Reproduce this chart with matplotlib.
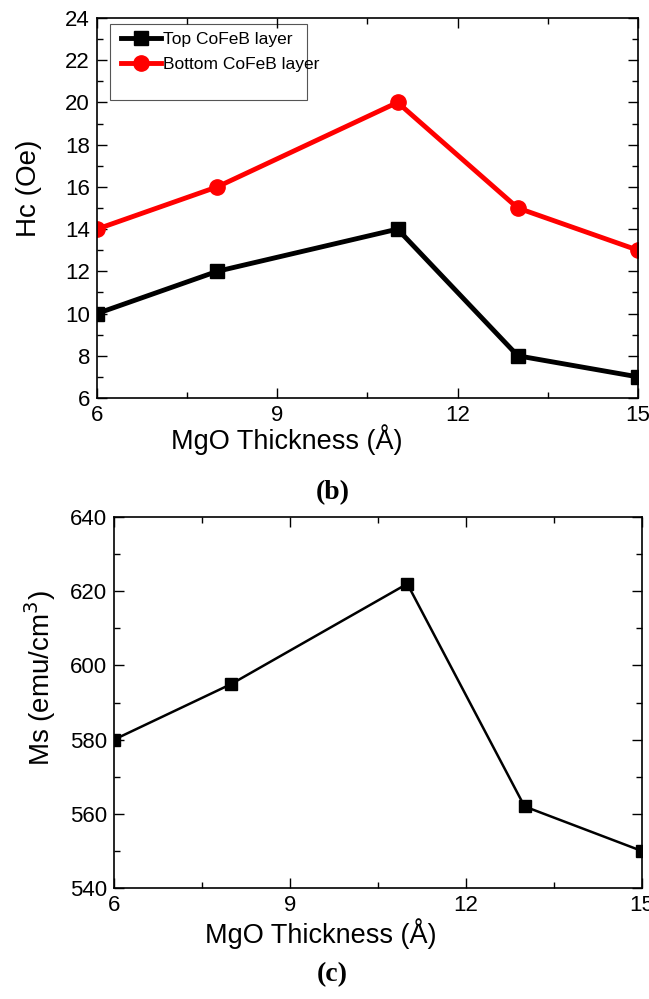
import matplotlib
matplotlib.use('Agg')
from matplotlib import pyplot as plt
from matplotlib.ticker import MultipleLocator
from matplotlib.patches import Rectangle

thickness = [6, 8, 11, 13, 15]
hc_top = [10, 12, 14, 8, 7]
hc_bottom = [14, 16, 20, 15, 13]
ms = [580, 595, 622, 562, 550]

plt.rcParams['font.family'] = ['Liberation Sans', 'DejaVu Sans']

fig = plt.figure(figsize=(6.49, 9.99), dpi=100)

def style(ax, ymaj, ymin):
    ax.set_xlim(6, 15)
    ax.xaxis.set_major_locator(MultipleLocator(3))
    ax.xaxis.set_minor_locator(MultipleLocator(1.5))
    ax.yaxis.set_major_locator(MultipleLocator(ymaj))
    ax.yaxis.set_minor_locator(MultipleLocator(ymin))
    ax.tick_params(which='both', direction='in', top=True, right=True, width=1)
    ax.tick_params(which='major', length=7, labelsize=16, pad=5)
    ax.tick_params(which='minor', length=4)
    for s in ax.spines.values():
        s.set_linewidth(1.2)

# panel (b)
ax1 = fig.add_axes([0.1495, 0.6016, 0.8335, 0.3804])
ax1.plot(thickness, hc_top, '-s', color='black', lw=3.5, ms=10, label='Top CoFeB layer')
ax1.plot(thickness, hc_bottom, '-o', color='red', lw=3.5, ms=11, label='Bottom CoFeB layer')
ax1.set_ylim(6, 24)
style(ax1, 2, 1)
ax1.set_xlabel('MgO Thickness (Å)', fontsize=19.5)
ax1.set_ylabel('Hc (Oe)', fontsize=20)
ax1.xaxis.set_label_coords(0.351, -0.07)
ax1.yaxis.set_label_coords(-0.102, 0.553)
ax1.add_patch(Rectangle((0.024, 0.785), 0.365, 0.2, transform=ax1.transAxes,
                        fill=False, edgecolor='#555555', lw=0.8))
ax1.legend(loc='upper left', bbox_to_anchor=(0.025, 0.99), frameon=False,
           fontsize=12.5, handlelength=2.3, handletextpad=0.1, labelspacing=0.55,
           borderaxespad=0.2)
fig.text(0.512, 0.507, '(b)', ha='center', va='center', fontsize=20,
         family='Liberation Serif', weight='bold')

# panel (c)
ax2 = fig.add_axes([0.1757, 0.111, 0.8133, 0.3715])
ax2.plot(thickness, ms, '-s', color='black', lw=1.8, ms=9)
ax2.set_ylim(540, 640)
style(ax2, 20, 10)
ax2.set_xlabel('MgO Thickness (Å)', fontsize=19.5)
ax2.set_ylabel('Ms (emu/cm$^3$)', fontsize=20)
ax2.xaxis.set_label_coords(0.392, -0.08)
ax2.yaxis.set_label_coords(-0.106, 0.566)
fig.text(0.512, 0.024, '(c)', ha='center', va='center', fontsize=20,
         family='Liberation Serif', weight='bold')

plt.savefig('out.png', dpi=100)
